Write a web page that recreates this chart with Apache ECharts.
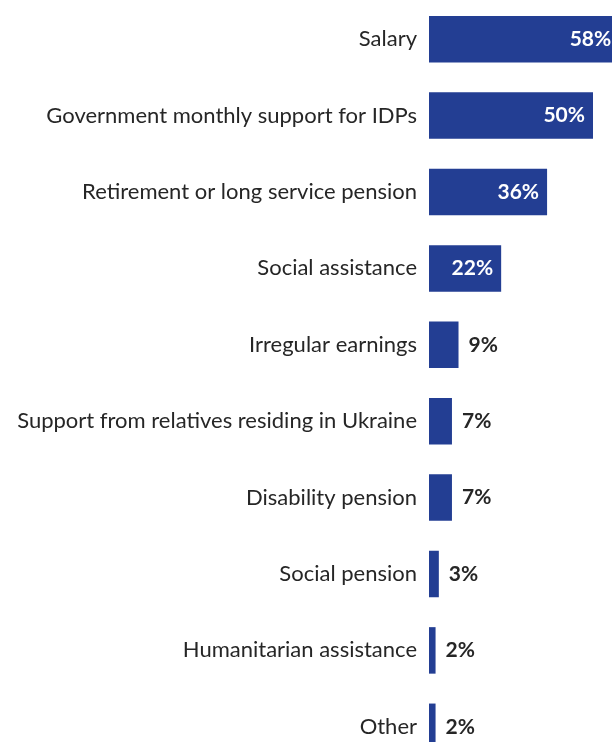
<!DOCTYPE html>
<html>
<head>
<meta charset="utf-8">
<script src="https://cdn.jsdelivr.net/npm/echarts@6/dist/echarts.min.js"></script>
<style>
  html, body { margin: 0; padding: 0; background: #fff; }
  #chart { width: 612px; height: 742px; }
</style>
</head>
<body>
<div id="chart"></div>
<script>
// Sources of income, share of respondents (%)
const categories = [
  'Salary',
  'Government monthly support for IDPs',
  'Retirement or long service pension',
  'Social assistance',
  'Irregular earnings',
  'Support from relatives residing in Ukraine',
  'Disability pension',
  'Social pension',
  'Humanitarian assistance',
  'Other'
];
const values = [58, 50, 36, 22, 9, 7, 7, 3, 2, 2];
// values at or above this are labelled inside the bar
const insideThreshold = 20;

const FONT = 'Lato';
const BAR = '#233E93';
const TEXT = '#262626';

const chart = echarts.init(document.getElementById('chart'), null, { renderer: 'canvas' });

const data = values.map(v => ({
  value: v,
  label: v >= insideThreshold
    ? { position: 'insideRight', distance: 8, color: '#ffffff' }
    : { position: 'right', distance: 10, color: TEXT }
}));

chart.setOption({
  animation: false,
  grid: {
    left: 429, top: 1, width: 328, height: 764,
    containLabel: false,
    outerBoundsMode: 'none'
  },
  xAxis: {
    type: 'value', min: 0, max: 100,
    show: false
  },
  yAxis: {
    type: 'category',
    data: categories,
    inverse: true,
    axisLine: { show: false },
    axisTick: { show: false },
    axisLabel: { color: TEXT, fontFamily: FONT, fontSize: 22, margin: 12 }
  },
  series: [{
    type: 'bar',
    data: data,
    barWidth: 46.5,
    itemStyle: { color: BAR },
    label: {
      show: true,
      formatter: '{c}%',
      fontFamily: FONT,
      fontWeight: 'bold',
      fontSize: 21
    }
  }]
});
</script>
</body>
</html>
